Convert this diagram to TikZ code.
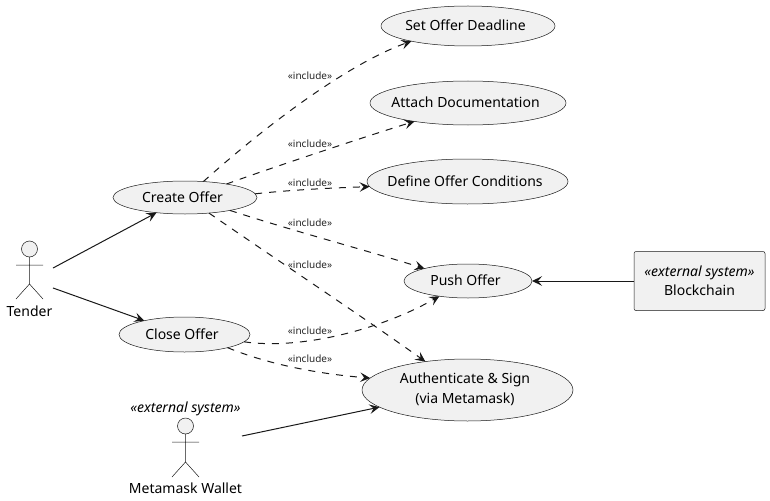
\documentclass[tikz,border=0pt]{standalone}
\usepackage{fontspec}
\setmainfont{Noto Sans}
\usetikzlibrary{shapes.geometric,arrows.meta}
\definecolor{lineC}{HTML}{181818}
\definecolor{fillC}{HTML}{F1F1F1}
\tikzset{
  usecase/.style={ellipse,draw=lineC,line width=.5pt,fill=fillC,inner sep=0pt,outer sep=0pt,minimum width=2*#1},
  txt/.style={font=\fontsize{14}{19}\selectfont,text=black,inner sep=0pt,align=center},
  inc/.style={font=\fontsize{10}{12}\selectfont,text=black!85,inner sep=0pt},
  every label/.style={txt,xshift=-2.5pt,yshift=.7pt},
  rel/.style={draw=lineC,line width=1pt,-{Stealth[length=10pt,width=9.5pt,inset=4pt]}},
  increl/.style={rel,dash pattern=on 7pt off 7pt},
  stick/.style={draw=lineC,line width=.5pt},
  ghost/.style={inner sep=0pt,outer sep=0pt,rectangle}
}
\begin{document}
\begin{tikzpicture}[x=1pt,y=-1pt]
\useasboundingbox (0,0) rectangle (770,500);
% use cases
\node[usecase=87pt,minimum height=40pt,label={center:Set Offer Deadline}] (deadline) at (468,26) {};
\node[usecase=98pt,minimum height=44pt,label={center:Attach Documentation}] (attach) at (468,103) {};
\node[usecase=100.5pt,minimum height=45pt,label={center:Define Offer Conditions}] (define) at (467.5,181.5) {};
\node[usecase=72pt,minimum height=33pt,label={center:Create Offer}] (create) at (185,197.5) {};
\node[usecase=64pt,minimum height=34pt,label={center:Push Offer}] (push) at (468,281) {};
\node[usecase=65.5pt,minimum height=35pt,label={center:Close Offer}] (close) at (184.5,334.5) {};
\node[usecase=105.5pt,minimum height=62pt,label={center:{Authenticate \& Sign\\[1pt](via Metamask)}}] (auth) at (467.5,390) {};
% blockchain
\node[draw=lineC,line width=.5pt,fill=fillC,rounded corners=2pt,minimum width=131pt,minimum height=59pt,inner sep=0pt,outer sep=0pt,txt] (chain) at (699.5,281) {\textit{«external system»}\\Blockchain};
% actors
\node[ghost,minimum width=47pt,minimum height=78pt] (tender) at (29.5,278) {};
\draw[stick,fill=fillC] (29.5,249) circle (8pt);
\draw[stick] (29.5,257) -- (29.5,284) (16,265) -- (43,265) (16,299) -- (29.5,284) -- (43,299);
\node[txt] (tenderlabel) at (29.5,311) {Tender};
\node[ghost,minimum width=113pt,minimum height=96pt] (wallet) at (185.5,436) {};
\draw[stick,fill=fillC] (185.5,426) circle (8pt);
\draw[stick] (185.5,434) -- (185.5,462) (172,442) -- (199,442) (172,477) -- (185.5,462) -- (199,477);
\node[txt] (walletlabel) at (185.5,488) {Metamask Wallet};
\node[txt] (walletstereo) at (185.5,409) {\textit{«external system»}};
% solid connectors
\draw[rel] (tender.23) -- (create.208.8);
\draw[rel] (tender.-23) -- (close.161.1);
\draw[rel] (wallet.east) -- (auth.191.9);
\draw[rel] (chain.west) -- (push.east);
% include connectors
\draw[increl] (create.41) .. controls (270,122) and (350,63) .. (deadline.195.5);
\draw[increl] (create.18.6) .. controls (265,170) and (370,135) .. (attach.199);
\draw[increl] (create.3.6) .. controls (290,190) and (330,188) .. (define.183.2);
\draw[increl] (create.-16.7) .. controls (290,230) and (365,250) .. (push.164.7);
\draw[increl] (create.-33.4) .. controls (280,262) and (360,315) .. (auth.146.6);
\draw[increl] (close.-7.1) .. controls (300,350) and (380,330) .. (push.208);
\draw[increl] (close.-17.2) .. controls (270,365) and (320,374) .. (auth.173.7);
% include labels
\node[inc] (i1) at (310,76) {«include»};
\node[inc] (i2) at (310,144) {«include»};
\node[inc] (i3) at (310,183) {«include»};
\node[inc] (i4) at (310,223) {«include»};
\node[inc] (i5) at (310,265) {«include»};
\node[inc] (i6) at (310,331) {«include»};
\node[inc] (i7) at (310,359) {«include»};
\end{tikzpicture}
\end{document}
